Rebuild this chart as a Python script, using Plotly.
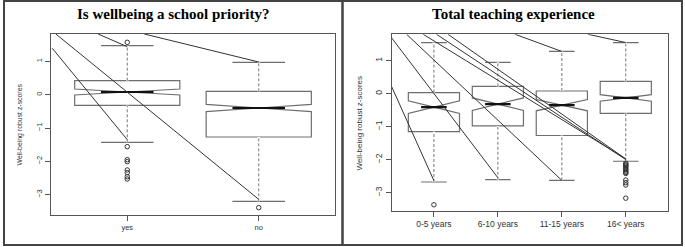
import plotly.graph_objects as go

# ---------------- data ----------------
# Panel 1: Is wellbeing a school priority?
cats1 = ["yes", "no"]
q1_1 = [-0.32, -1.27]
med_1 = [0.08, -0.40]
q3_1 = [0.42, 0.10]
lo_1 = [-1.43, -3.20]
hi_1 = [1.47, 0.97]
notch_1 = [0.09, 0.11]
out_cat1 = [1, 1, 1, 1, 1, 1, 1, 1, 2]
out_val1 = [1.57, -1.56, -1.95, -2.01, -2.26, -2.34, -2.46, -2.53, -3.39]
# diagonal reference lines (start x, start y) -> (end x, end y), data units
ln1_x0 = [0.43, 0.457, 0.778, 1.13]
ln1_y0 = [1.39, 1.82, 1.82, 1.82]
ln1_x1 = [1, 2, 1, 2]
ln1_y1 = [-1.35, -3.14, 1.44, 0.98]

# Panel 2: Total teaching experience
cats2 = ["0-5 years", "6-10 years", "11-15 years", "16< years"]
q1_2 = [-1.15, -0.98, -1.27, -0.60]
med_2 = [-0.41, -0.32, -0.35, -0.13]
q3_2 = [0.03, 0.22, 0.08, 0.37]
lo_2 = [-2.68, -2.61, -2.63, -2.05]
hi_2 = [1.55, 0.95, 1.28, 1.55]
notch_2 = [0.19, 0.19, 0.17, 0.10]
out_cat2 = [1, 4, 4, 4, 4, 4, 4, 4, 4, 4, 4, 4, 4, 4, 4]
out_val2 = [-3.37, -2.11, -2.14, -2.17, -2.20, -2.24, -2.28, -2.31, -2.35, -2.39,
            -2.42, -2.62, -2.70, -2.77, -3.17]
ln2_x0 = [0.34, 0.34, 0.573, 0.833, 1.04, 1.22, 2.27, 3.41]
ln2_y0 = [0.21, 1.69, 1.80, 1.80, 1.80, 1.80, 1.80, 1.80]
ln2_x1 = [1, 2, 3, 4, 4, 4, 3, 4]
ln2_y1 = [-2.64, -2.55, -2.63, -1.98, -2.0, -1.98, 1.28, 1.55]

# ---------------- styling ----------------
W, H = 685, 247
BOX_C = "#6e6e6e"
LINE_C = "#333333"
AX_C = "#555555"
TXT_C = "#333333"
BOXW = 0.8

fig = go.Figure()


def add_panel(cats, q1, med, q3, lo, hi, notch, oc, ov, lx0, ly0, lx1, ly1, xa, ya):
    pos = list(range(1, len(cats) + 1))
    for i, p in enumerate(pos):
        fig.add_trace(go.Box(
            x=[p], q1=[q1[i]], median=[med[i]], q3=[q3[i]],
            lowerfence=[lo[i]], upperfence=[hi[i]],
            notched=True, notchspan=[notch[i]], notchwidth=0.5,
            width=BOXW, whiskerwidth=0.5,
            fillcolor="rgba(0,0,0,0)", line=dict(color=BOX_C, width=1.2),
            boxpoints=False, showlegend=False, hoverinfo="skip",
            xaxis=xa, yaxis=ya))
        # make whisker stems dashed: cover with white, redraw dashed
        for (a, b) in [(q3[i], hi[i]), (lo[i], q1[i])]:
            fig.add_trace(go.Scatter(x=[p, p], y=[a, b], mode="lines",
                                     line=dict(color="white", width=2.5),
                                     showlegend=False, hoverinfo="skip",
                                     xaxis=xa, yaxis=ya))
            fig.add_trace(go.Scatter(x=[p, p], y=[a, b], mode="lines",
                                     line=dict(color="#777777", width=1, dash="3px,2px"),
                                     showlegend=False, hoverinfo="skip",
                                     xaxis=xa, yaxis=ya))
        # thick median
        hw = BOXW / 2 * 0.5
        fig.add_trace(go.Scatter(x=[p - hw, p + hw], y=[med[i], med[i]], mode="lines",
                                 line=dict(color="#111111", width=2.2),
                                 showlegend=False, hoverinfo="skip",
                                 xaxis=xa, yaxis=ya))
    # diagonal lines
    for k in range(len(lx0)):
        fig.add_trace(go.Scatter(x=[lx0[k], lx1[k]], y=[ly0[k], ly1[k]], mode="lines",
                                 line=dict(color=LINE_C, width=1),
                                 showlegend=False, hoverinfo="skip",
                                 xaxis=xa, yaxis=ya))
    # outliers
    fig.add_trace(go.Scatter(x=oc, y=ov, mode="markers",
                             marker=dict(symbol="circle-open", size=4.5,
                                         color="#333333", line=dict(width=1)),
                             showlegend=False, hoverinfo="skip",
                             xaxis=xa, yaxis=ya, cliponaxis=False))


add_panel(cats1, q1_1, med_1, q3_1, lo_1, hi_1, notch_1, out_cat1, out_val1,
          ln1_x0, ln1_y0, ln1_x1, ln1_y1, "x", "y")
add_panel(cats2, q1_2, med_2, q3_2, lo_2, hi_2, notch_2, out_cat2, out_val2,
          ln2_x0, ln2_y0, ln2_x1, ln2_y1, "x2", "y2")

axis_common = dict(showgrid=False, zeroline=False, showline=True, mirror=True,
                   linecolor=AX_C, linewidth=1, ticks="outside", ticklen=5,
                   tickcolor=AX_C, color=TXT_C)

fig.update_layout(
    width=W, height=H, margin=dict(l=0, r=0, t=0, b=0),
    paper_bgcolor="white", plot_bgcolor="white",
    font=dict(family="Liberation Sans, Arial, sans-serif", color=TXT_C),
    xaxis=dict(domain=[51 / W, 335 / W], range=[0.42, 2.58],
               tickvals=[1, 2], ticktext=cats1, tickfont=dict(size=7.5),
               anchor="y", **axis_common),
    yaxis=dict(domain=[1 - 215 / H, 1 - 34 / H], range=[-3.61, 1.82],
               tickvals=[1, 0, -1, -2, -3], tickangle=-90, tickfont=dict(size=7.5),
               anchor="x", **axis_common),
    xaxis2=dict(domain=[391.7 / W, 668 / W], range=[0.34, 4.66],
                tickvals=[1, 2, 3, 4], ticktext=cats2, tickfont=dict(size=8.5),
                anchor="y2", **axis_common),
    yaxis2=dict(domain=[1 - 210.7 / H, 1 - 34.3 / H], range=[-3.55, 1.80],
                tickvals=[1, 0, -1, -2, -3], tickangle=-90, tickfont=dict(size=8.5),
                anchor="x2", **axis_common),
)

annotations = [
    dict(text="<b>Is wellbeing a school priority?</b>", x=173.5 / W, y=1 - 13.5 / H,
         font=dict(family="Liberation Serif, Times New Roman, serif", size=15, color="#000")),
    dict(text="<b>Total teaching experience</b>", x=513 / W, y=1 - 13.5 / H,
         font=dict(family="Liberation Serif, Times New Roman, serif", size=15, color="#000")),
    dict(text="Well-being robust z-scores", x=19.5 / W, y=1 - 125 / H, textangle=-90,
         font=dict(size=6.9, color=TXT_C)),
    dict(text="Well-being robust z-scores", x=359.5 / W, y=1 - 123 / H, textangle=-90,
         font=dict(size=8, color=TXT_C)),
]
for a in annotations:
    a.update(xref="paper", yref="paper", showarrow=False, xanchor="center", yanchor="middle")
fig.update_layout(annotations=annotations)

fig.update_layout(shapes=[
    dict(type="rect", xref="paper", yref="paper", x0=4 / W, x1=342.5 / W,
         y0=1 - 245 / H, y1=1 - 1 / H, line=dict(color="#444444", width=2)),
    dict(type="rect", xref="paper", yref="paper", x0=342.5 / W, x1=682 / W,
         y0=1 - 245 / H, y1=1 - 1 / H, line=dict(color="#444444", width=2)),
])

fig.write_html("out.html", config={"displayModeBar": False},
               post_script="document.body.style.margin='0px';document.body.style.overflow='hidden';")
